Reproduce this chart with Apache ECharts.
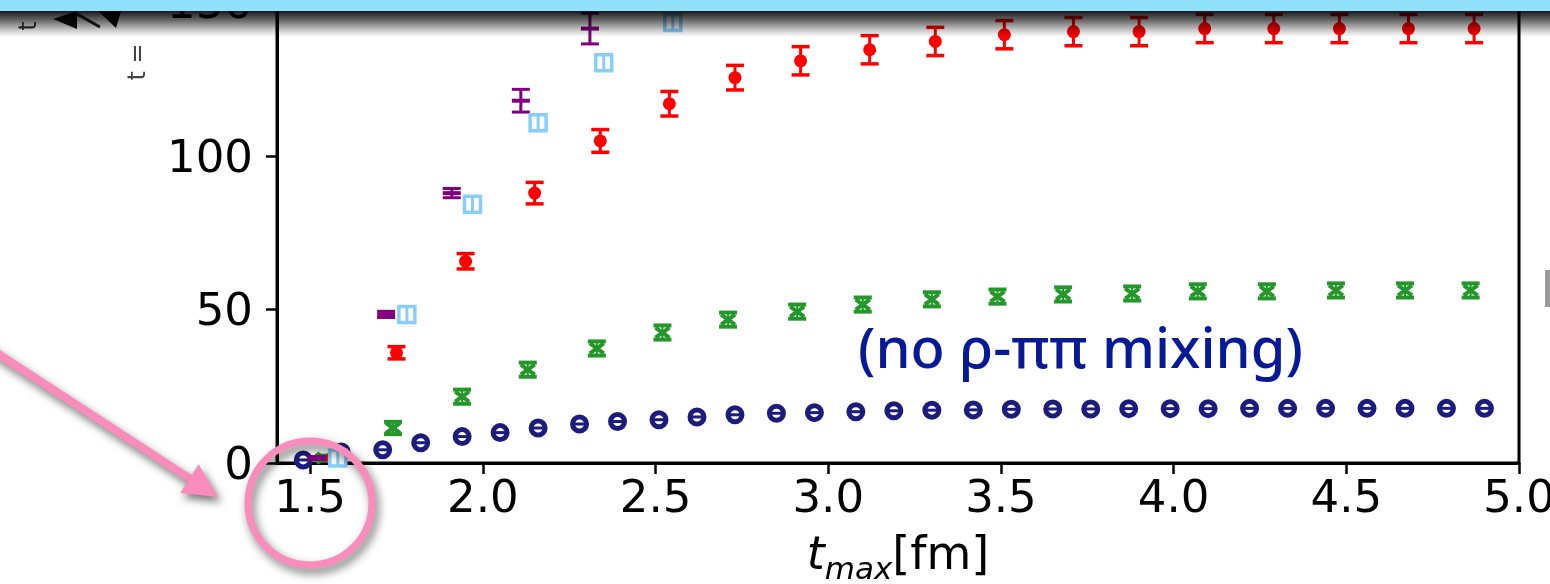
<!DOCTYPE html>
<html><head><meta charset="utf-8">
<script src="https://cdn.jsdelivr.net/npm/echarts@6/dist/echarts.min.js"></script>
<style>html,body{margin:0;padding:0;background:#fff}#c{width:1550px;height:584px}</style>
</head><body><div id="c"></div>
<script>
// ---- data ----
const xTickValues = [1.5, 2.0, 2.5, 3.0, 3.5, 4.0, 4.5, 5.0];
const yTickValues = [0, 50, 100, 150];

const navyX = [1.48, 1.59, 1.71, 1.82, 1.94, 2.05, 2.16, 2.28, 2.39, 2.51, 2.62, 2.73, 2.85, 2.96, 3.08, 3.19, 3.30, 3.42, 3.53, 3.65, 3.76, 3.87, 3.99, 4.10, 4.22, 4.33, 4.44, 4.56, 4.67, 4.79, 4.90];
const navyY = [1.0, 3.6, 4.3, 6.6, 8.6, 9.9, 11.4, 12.7, 13.5, 14.1, 15.0, 15.7, 16.2, 16.4, 16.7, 17.0, 17.2, 17.3, 17.5, 17.6, 17.6, 17.7, 17.7, 17.7, 17.8, 17.8, 17.8, 17.8, 17.8, 17.8, 17.8];
const navyErr = [0.2, 0.3, 0.3, 0.3, 0.3, 0.3, 0.3, 0.3, 0.3, 0.3, 0.3, 0.3, 0.3, 0.3, 0.3, 0.3, 0.3, 0.3, 0.3, 0.3, 0.3, 0.3, 0.3, 0.3, 0.3, 0.3, 0.3, 0.3, 0.3, 0.3, 0.3];

const greenX = [1.54, 1.74, 1.94, 2.13, 2.33, 2.52, 2.71, 2.91, 3.10, 3.30, 3.49, 3.68, 3.88, 4.07, 4.27, 4.47, 4.67, 4.86];
const greenY = [1.6, 11.4, 21.6, 30.4, 37.3, 42.5, 46.7, 49.3, 51.6, 53.3, 54.2, 54.9, 55.2, 55.9, 55.9, 56.2, 56.2, 56.2];
const greenErr = [0.8, 2.0, 2.3, 2.3, 2.3, 2.3, 2.3, 2.3, 2.3, 2.3, 2.3, 2.3, 2.3, 2.3, 2.3, 2.3, 2.3, 2.3];

const redX = [1.57, 1.75, 1.95, 2.15, 2.34, 2.54, 2.73, 2.92, 3.12, 3.31, 3.51, 3.71, 3.90, 4.09, 4.29, 4.48, 4.68, 4.87];
const redY = [1.6, 35.9, 65.7, 87.9, 104.9, 117.0, 125.5, 131.0, 134.6, 137.3, 139.5, 140.5, 140.5, 141.5, 141.5, 141.5, 141.5, 141.5];
const redErr = [0.5, 2.0, 2.5, 3.5, 3.7, 4.0, 4.0, 4.6, 4.6, 4.6, 4.6, 4.6, 4.6, 4.6, 4.6, 4.6, 4.6, 4.6];

const purpleX = [1.52, 1.72, 1.91, 2.11, 2.31];
const purpleY = [1.6, 48.4, 87.9, 118.0, 141.5];
const purpleErr = [0.5, 1.0, 1.5, 3.7, 5.0];

const skyX = [1.58, 1.78, 1.97, 2.16, 2.35, 2.55];
const skyY = [1.6, 48.4, 84.3, 110.8, 130.4, 143.5];
const skyErr = [0.5, 1.0, 1.0, 1.5, 2.0, 2.0];

// ---- styling ----
const NAVY = '#1c1c7c', GREEN = '#24962a', RED = '#ff0000', PURPLE = '#800080', SKY = '#87cefa';
const PINK = '#fa8cbb';

function makeSeries(name, xs, ys, es, draw, z) {
  return {
    type: 'custom', name: name, z: z,
    data: xs.map((x, i) => [x, ys[i], es[i]]),
    renderItem: function (params, api) {
      const x = api.value(0), y = api.value(1), e = api.value(2);
      const p = api.coord([x, y]);
      const t = api.coord([x, y + e])[1];
      const b = api.coord([x, y - e])[1];
      return { type: 'group', children: draw(p[0], p[1], t, b) };
    }
  };
}
function L(x1, y1, x2, y2, c, w) {
  return { type: 'line', shape: { x1, y1, x2, y2 }, style: { stroke: c, lineWidth: w } };
}

const drawNavy = (cx, cy, t, b) => [
  L(cx, t, cx, b, NAVY, 2),
  { type: 'circle', shape: { cx, cy, r: 7 }, style: { fill: '#fff', stroke: NAVY, lineWidth: 5 } },
  L(cx - 6.5, cy, cx + 6.5, cy, NAVY, 3)
];
const drawGreen = (cx, cy, t, b) => [
  L(cx, t, cx, b, GREEN, 2),
  L(cx - 9, t, cx + 9, t, GREEN, 4),
  L(cx - 9, b, cx + 9, b, GREEN, 4),
  L(cx - 7, cy - 5, cx + 7, cy + 5, GREEN, 4),
  L(cx - 7, cy + 5, cx + 7, cy - 5, GREEN, 4)
];
const drawRed = (cx, cy, t, b) => [
  L(cx, t, cx, b, RED, 3),
  L(cx - 9, t, cx + 9, t, RED, 3.5),
  L(cx - 9, b, cx + 9, b, RED, 3.5),
  { type: 'circle', shape: { cx, cy, r: 6.5 }, style: { fill: RED } }
];
const drawPurple = (cx, cy, t, b) => [
  L(cx, t, cx, b, PURPLE, 3),
  L(cx - 9, t, cx + 9, t, PURPLE, 3),
  L(cx - 9, b, cx + 9, b, PURPLE, 3),
  L(cx - 9, cy, cx + 9, cy, PURPLE, 4)
];
const drawSky = (cx, cy, t, b) => [
  L(cx, t, cx, b, SKY, 3),
  { type: 'rect', shape: { x: cx - 8, y: cy - 8, width: 16, height: 16 }, style: { fill: '#fff', stroke: SKY, lineWidth: 3.5 } },
  L(cx, cy - 7, cx, cy + 7, SKY, 3)
];

const chart = echarts.init(document.getElementById('c'), null, { renderer: 'canvas' });
const tickFont = 'DejaVu Sans';
chart.setOption({
  animation: false,
  backgroundColor: '#fff',
  grid: { left: 277, right: 31, top: 0, bottom: 121, show: true, borderColor: '#000', borderWidth: 3,
          containLabel: false, outerBoundsMode: 'none' },
  xAxis: {
    type: 'value', min: 1.404, max: 5.0,
    splitLine: { show: false },
    axisLine: { lineStyle: { color: '#000', width: 3 } },
    axisTick: { customValues: xTickValues, length: 11, lineStyle: { color: '#000', width: 2.5 } },
    axisLabel: { customValues: xTickValues, formatter: v => v.toFixed(1), fontFamily: tickFont, fontSize: 45, color: '#000', margin: 15 },
    name: '{t|t}{s|max}{b|[fm]}',
    nameLocation: 'middle', nameGap: 71,
    nameTextStyle: {
      rich: {
        t: { fontFamily: tickFont, fontStyle: 'italic', fontSize: 46, color: '#000', lineHeight: 52, verticalAlign: 'top' },
        s: { fontFamily: tickFont, fontStyle: 'italic', fontSize: 31, color: '#000', lineHeight: 30, verticalAlign: 'bottom' },
        b: { fontFamily: tickFont, fontSize: 46, color: '#000', lineHeight: 52, verticalAlign: 'top' }
      }
    }
  },
  yAxis: {
    type: 'value', min: 0, max: 150.8,
    splitLine: { show: false },
    axisLine: { show: true, lineStyle: { color: '#000', width: 3 } },
    axisTick: { show: true, customValues: yTickValues, length: 11, lineStyle: { color: '#000', width: 2.5 } },
    axisLabel: { customValues: yTickValues, margin: 24,
      formatter: v => '{a|' + v + '}',
      rich: { a: { fontFamily: tickFont, fontSize: 45, color: '#000', lineHeight: 46, padding: [8, 0, 0, 0] } } }
  },
  series: [
    makeSeries('navy', navyX, navyY, navyErr, drawNavy, 2),
    makeSeries('green', greenX, greenY, greenErr, drawGreen, 3),
    makeSeries('red', redX, redY, redErr, drawRed, 4),
    makeSeries('purple', purpleX, purpleY, purpleErr, drawPurple, 5),
    makeSeries('sky', skyX, skyY, skyErr, drawSky, 6)
  ],
  graphic: { elements: [
    { type: 'text', x: 858, y: 352, z: 90,
      style: { text: '(no ρ-ππ mixing)', font: '500 56px "Noto Sans"', fill: '#061a97', align: 'left', verticalAlign: 'middle' } },
    // cut-off y-axis label fragments
    { type: 'text', x: 139, y: 62, rotation: Math.PI / 2, z: 90,
      style: { text: 't =', font: '24px "DejaVu Sans"', fill: '#444', align: 'center', verticalAlign: 'middle' } },
    { type: 'text', x: 30, y: 26, rotation: Math.PI / 2, z: 90,
      style: { text: 't', font: '24px "DejaVu Sans"', fill: '#333', align: 'center', verticalAlign: 'middle' } },
    { type: 'polygon', z: 90, shape: { points: [[53, 19], [77, 11], [77, 29]] }, style: { fill: '#111' } },
    { type: 'polygon', z: 90, shape: { points: [[98, 11], [121, 11], [116, 28]] }, style: { fill: '#111' } },
    { type: 'line', z: 90, shape: { x1: 77, y1: 14, x2: 100, y2: 27 }, style: { stroke: '#222', lineWidth: 3 } },
    // right edge fragment
    { type: 'rect', z: 90, shape: { x: 1545, y: 270, width: 6, height: 37 }, style: { fill: '#9a9a9a' } },
    // top bar and its shadow
    { type: 'rect', z: 100, shape: { x: 0, y: 11, width: 1550, height: 26 },
      style: { fill: { type: 'linear', x: 0, y: 0, x2: 0, y2: 1, colorStops: [
        { offset: 0, color: 'rgba(0,0,0,0.9)' }, { offset: 0.35, color: 'rgba(0,0,0,0.6)' },
        { offset: 0.75, color: 'rgba(0,0,0,0.2)' }, { offset: 1, color: 'rgba(0,0,0,0)' } ] } } },
    { type: 'rect', z: 101, shape: { x: 0, y: 0, width: 1550, height: 11 }, style: { fill: '#91e1fc' } },
    // pink arrow and circle
    { type: 'line', z: 110, shape: { x1: -10, y1: 348.6, x2: 192, y2: 480 },
      style: { stroke: PINK, lineWidth: 8, shadowBlur: 8, shadowColor: 'rgba(0,0,0,0.55)', shadowOffsetX: 3, shadowOffsetY: 5 } },
    { type: 'polygon', z: 110, shape: { points: [[218, 497], [180.2, 492.9], [198.6, 464.3]] },
      style: { fill: PINK, shadowBlur: 8, shadowColor: 'rgba(0,0,0,0.55)', shadowOffsetX: 3, shadowOffsetY: 5 } },
    { type: 'circle', z: 110, shape: { cx: 310, cy: 503, r: 62 },
      style: { fill: 'transparent', stroke: PINK, lineWidth: 7, shadowBlur: 10, shadowColor: 'rgba(0,0,0,0.55)', shadowOffsetX: 3, shadowOffsetY: 5 } }
  ] }
});
</script></body></html>
